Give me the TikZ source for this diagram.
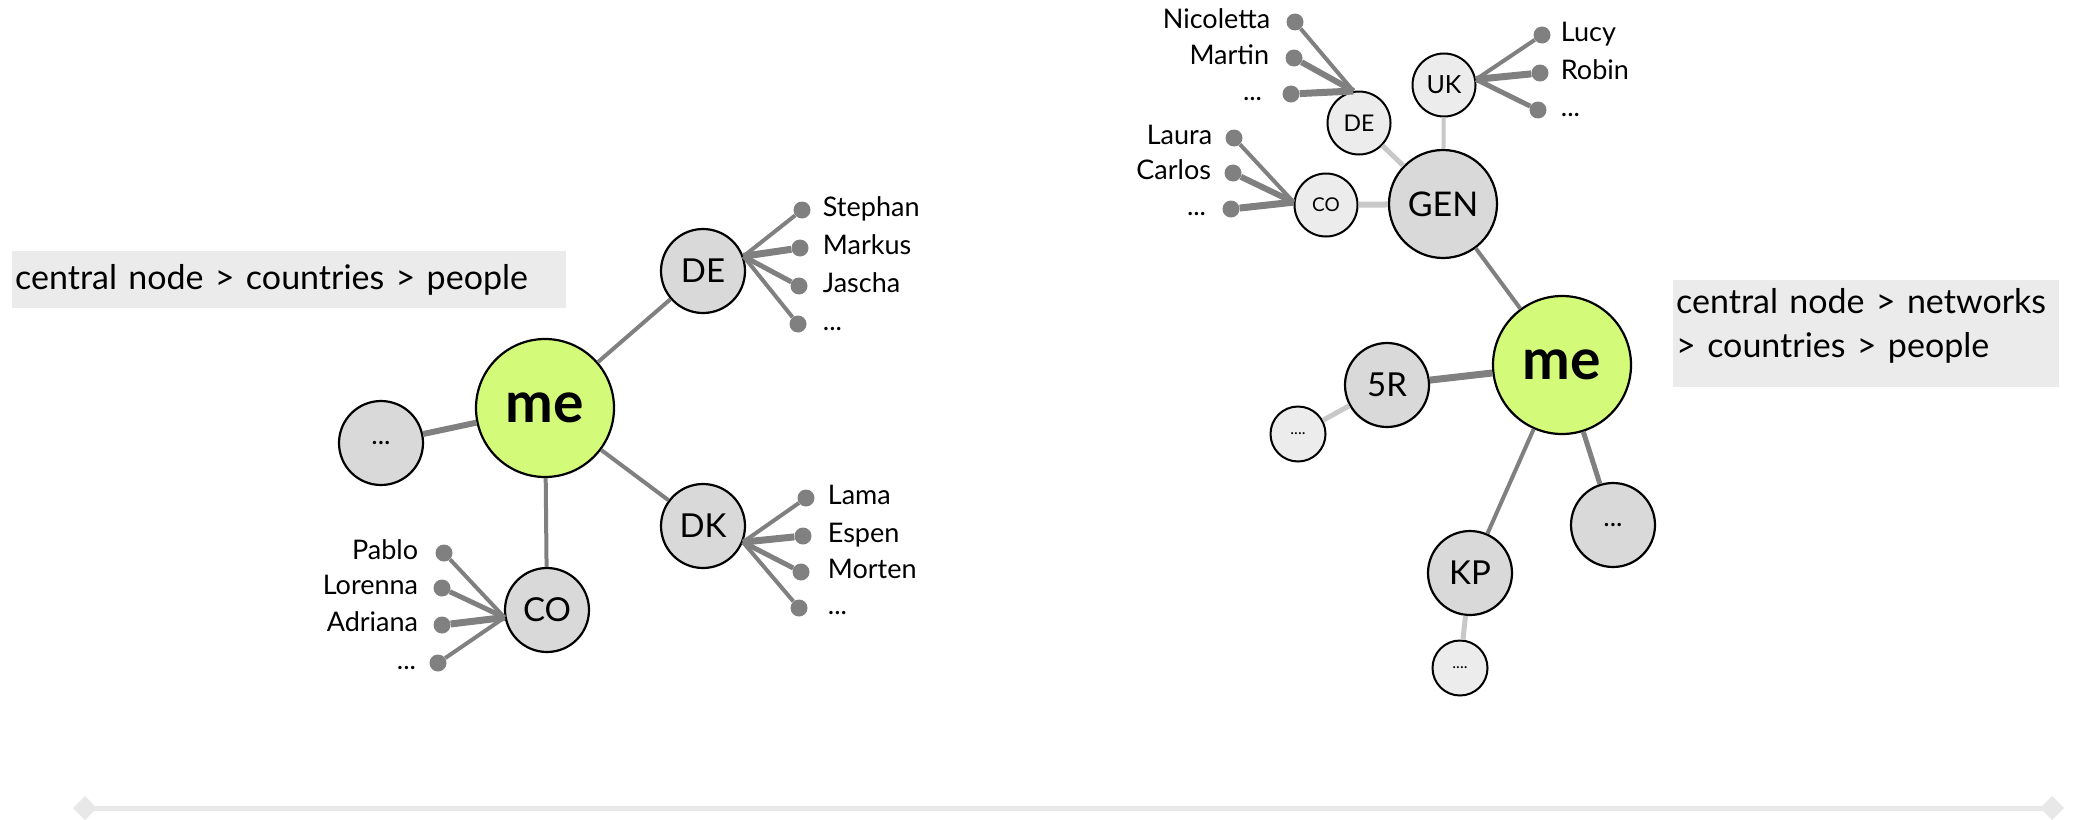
\documentclass[tikz,border=0pt]{standalone}
\usepackage{fontspec}
\setmainfont{Lato}
\usetikzlibrary{positioning,arrows.meta}

\definecolor{meGreen}{RGB}{212,250,122}
\definecolor{nodeGray}{RGB}{217,217,217}
\definecolor{nodeLight}{RGB}{236,236,236}
\definecolor{lineDark}{RGB}{128,128,128}
\definecolor{lineLight}{RGB}{200,200,200}
\definecolor{boxGray}{RGB}{235,235,235}
\definecolor{railGray}{RGB}{232,232,232}

\tikzset{
	hub/.style={circle, draw=black, line width=2.2pt, fill=meGreen, minimum size=138pt, inner sep=0pt, font=\fontsize{57}{57}\selectfont\bfseries},
	land/.style={circle, draw=black, line width=2.2pt, fill=nodeGray, minimum size=84pt, inner sep=0pt, font=\fontsize{33}{33}\selectfont},
	minor/.style={circle, draw=black, line width=2pt, fill=nodeLight, minimum size=63pt, inner sep=0pt},
	tiny/.style={circle, draw=black, line width=2pt, fill=nodeLight, minimum size=55pt, inner sep=0pt, font=\fontsize{16}{16}\selectfont},
	leaf/.style={circle, fill=lineDark, minimum size=17pt, inner sep=0pt},
	who/.style={inner sep=0pt, text height=19pt, text depth=6pt, font=\fontsize{27}{27}\selectfont},
	link/.style={draw=lineDark, line width=4pt},
	faint/.style={draw=lineLight, line width=5pt},
	tagbox/.style={fill=boxGray, inner xsep=3pt, inner ysep=0pt, align=left, font=\fontsize{34}{44}\selectfont}
}

\begin{document}
\begin{tikzpicture}[x=1pt, y=-1pt]
	\useasboundingbox (0,0) rectangle (2076,819);

	% left: central node > countries > people
	\node[tagbox, anchor=north west, text width=548pt, minimum height=57pt] (tagL) at (12,251) {central node > countries > people};

	\node[hub]	(me1)	at (545,408) {me};
	\node[land]	(de1)	at (703,271) {DE};
	\node[land]	(dk1)	at (703,526) {DK};
	\node[land]	(co1)	at (547,610) {CO};
	\node[land, font=\fontsize{27}{27}\selectfont]	(etc1)	at (381,443) {...};

	\draw[link]	(me1) -- (de1);
	\draw[link]	(me1) -- (dk1);
	\draw[link]	(me1) -- (co1);
	\draw[link, line width=6pt]	(me1) -- (etc1);

	\node[leaf] (des1) at (802,210) {};
	\node[leaf] (des2) at (800,248) {};
	\node[leaf] (des3) at (799,286) {};
	\node[leaf] (des4) at (798,324) {};
	\node[who, right=12pt of des1] (desn1) {Stephan};
	\node[who, right=14pt of des2] (desn2) {Markus};
	\node[who, right=15pt of des3] (desn3) {Jascha};
	\node[who, right=16pt of des4] (desn4) {...};
	\foreach \n/\w in {1/4,2/7,3/5,4/4}
		\draw[link, line width=\w pt] (de1.20) -- (des\n);

	\node[leaf] (dks1) at (806,498) {};
	\node[leaf] (dks2) at (803,536) {};
	\node[leaf] (dks3) at (801,572) {};
	\node[leaf] (dks4) at (799,608) {};
	\node[who, right=13pt of dks1] (dksn1) {Lama};
	\node[who, right=16pt of dks2] (dksn2) {Espen};
	\node[who, right=18pt of dks3] (dksn3) {Morten};
	\node[who, right=20pt of dks4] (dksn4) {...};
	\foreach \n/\w in {1/4,2/7,3/5,4/4}
		\draw[link, line width=\w pt] (dk1.-22) -- (dks\n);

	\node[leaf] (cos1) at (444,553) {};
	\node[leaf] (cos2) at (442,588) {};
	\node[leaf] (cos3) at (442,625) {};
	\node[leaf] (cos4) at (438,663) {};
	\node[who, left=17pt of cos1] (cosn1) {Pablo};
	\node[who, left=15pt of cos2] (cosn2) {Lorenna};
	\node[who, left=15pt of cos3] (cosn3) {Adriana};
	\node[who, left=13pt of cos4] (cosn4) {...};
	\foreach \n/\w in {1/4,2/5,3/7,4/4}
		\draw[link, line width=\w pt] (co1.190) -- (cos\n);

	% right: central node > networks > countries > people
	\node[tagbox, anchor=north west, text width=380pt, text depth=66pt, minimum height=107pt] (tagR) at (1673,280) {central node > networks\\> countries > people};

	\node[hub]	(me2)	at (1562,365) {me};
	\node[land, minimum size=108pt, font=\fontsize{34}{34}\selectfont]	(gen)	at (1443,204) {GEN};
	\node[land]	(fiveR)	at (1387,385) {5R};
	\node[land]	(kp)	at (1470,573) {KP};
	\node[land, font=\fontsize{27}{27}\selectfont]	(etc2)	at (1613,525) {...};
	\node[minor, font=\fontsize{25}{25}\selectfont]	(uk)	at (1444,85) {UK};
	\node[minor, font=\fontsize{23}{23}\selectfont]	(de2)	at (1359,123) {DE};
	\node[minor, font=\fontsize{19}{19}\selectfont]	(co2)	at (1326,205) {CO};
	\node[tiny]	(etc5r)	at (1298,434) {....};
	\node[tiny]	(etckp)	at (1460,668) {....};

	\draw[link]	(me2) -- (gen);
	\draw[link, line width=7pt]	(me2) -- (fiveR);
	\draw[link]	(me2) -- (kp);
	\draw[link, line width=5pt]	(me2) -- (etc2);
	\draw[faint, line width=4pt]	(gen) -- (uk);
	\draw[faint]	(gen) -- (de2);
	\draw[faint, line width=6pt]	(gen) -- (co2);
	\draw[faint]	(fiveR) -- (etc5r);
	\draw[faint]	(kp) -- (etckp);

	\node[leaf] (uks1) at (1542,35) {};
	\node[leaf] (uks2) at (1540,73) {};
	\node[leaf] (uks3) at (1538,110) {};
	\node[who, right=10pt of uks1] (uksn1) {Lucy};
	\node[who, right=12pt of uks2] (uksn2) {Robin};
	\node[who, right=14pt of uks3] (uksn3) {...};
	\foreach \n/\w in {1/4,2/7,3/5}
		\draw[link, line width=\w pt] (uk.10) -- (uks\n);

	\node[leaf] (des5) at (1295,22) {};
	\node[leaf] (des6) at (1294,58) {};
	\node[leaf] (des7) at (1291,94) {};
	\node[who, left=16pt of des5] (desn5) {Nicoletta};
	\node[who, left=16pt of des6] (desn6) {Martin};
	\node[who, left=20pt of des7] (desn7) {...};
	\foreach \n/\w in {5/4,6/6,7/7}
		\draw[link, line width=\w pt] (de2.100) -- (des\n);

	\node[leaf] (cos5) at (1234,138) {};
	\node[leaf] (cos6) at (1233,173) {};
	\node[leaf] (cos7) at (1231,209) {};
	\node[who, left=13pt of cos5] (cosn5) {Laura};
	\node[who, left=13pt of cos6] (cosn6) {Carlos};
	\node[who, left=16pt of cos7] (cosn7) {...};
	\foreach \n/\w in {5/4,6/6,7/7}
		\draw[link, line width=\w pt] (co2.175) -- (cos\n);

	% bottom rail
	\draw[railGray, line width=5pt, {Diamond[length=24pt,width=24pt]}-{Diamond[length=24pt,width=24pt]}] (73,808) -- (2064,808);
\end{tikzpicture}
\end{document}
